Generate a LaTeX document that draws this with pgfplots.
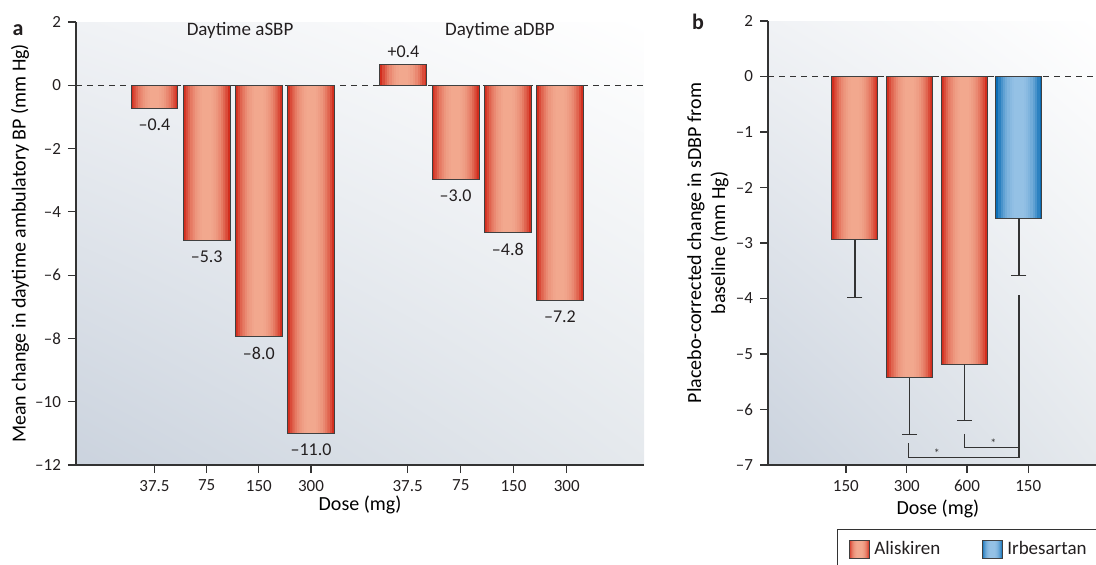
\documentclass[border=0pt]{standalone}
\usepackage{fontspec}
\setmainfont{Carlito}
\usepackage{pgfplots}
\usepackage{pgfplotstable}
\pgfplotsset{compat=1.18}
\usetikzlibrary{shadings}
\definecolor{rdark}{HTML}{D22E1E}
\definecolor{rlight}{HTML}{F2A88E}
\definecolor{bdark}{HTML}{0B6DB5}
\definecolor{blight}{HTML}{94C1E5}
\definecolor{axgray}{HTML}{333333}
\definecolor{txt}{HTML}{231F20}
\definecolor{bgLL}{HTML}{CBD3DE}
\definecolor{bgUL}{HTML}{F0F2F5}
\definecolor{bgLR}{HTML}{E5E9ED}

% panel a: bar heights as drawn, with printed labels
\pgfplotstableread{
x     y      lab
1     -0.74  –0.4
2     -4.90  –5.3
3     -7.93  –8.0
4     -11.0  –11.0
6.77  -2.97  –3.0
7.77  -4.65  –4.8
8.77  -6.80  –7.2
}\tabAneg
\pgfplotstableread{
x     y      lab
5.77  0.65   +0.4
}\tabApos
% panel b
\pgfplotstableread{
x  y      err
1  -2.94  1.04
2  -5.43  1.02
3  -5.18  1.02
}\tabAlis
\pgfplotstableread{
x  y      err
4  -2.55  1.03
}\tabIrb

\newcommand\gradbars[4]{%
  \foreach \d/\c in {1/0, 0.9/25, 0.8/45, 0.7/62, 0.6/75, 0.5/85, 0.4/92, 0.3/97, 0.2/100}{%
    \pgfmathsetmacro\w{#2*\d}%
    \edef\doit{\noexpand\addplot[forget plot, ybar, bar shift=0pt, draw=none, bar width=\w, fill=#4!\c!#3] table[x=x,y=y]{\noexpand#1};}%
    \doit}}
% gradient square for legend
\newcommand\gradsquare[2]{%
  \foreach \d/\c in {1/0, 0.9/25, 0.8/45, 0.7/62, 0.6/75, 0.5/85, 0.4/92, 0.3/97, 0.2/100}{%
    \fill[#2!\c!#1] ({5pt-5pt*\d},-4.5pt) rectangle ({5pt+5pt*\d},4.5pt);}%
  \draw[black!75, line width=0.5pt] (0pt,-4.5pt) rectangle (10pt,4.5pt);}

\pgfplotsset{
  common/.style={
    scale only axis,
    axis lines=left,
    axis line style={-, draw=axgray, line width=0.7pt},
    tick align=outside,
    major tick length=4pt,
    tick style={axgray, line width=0.6pt},
    tick label style={font=\fontsize{8.5}{10}\selectfont, text=txt},
    label style={font=\fontsize{9.5}{11}\selectfont, text=txt},
    axis background/.style={shade, upper left=bgUL, upper right=white, lower left=bgLL, lower right=bgLR},
    clip=false,
  },
  outline/.style={forget plot, ybar, bar shift=0pt, fill=none, draw=black!75, line width=0.5pt},
}
\begin{document}
\begin{tikzpicture}
% ---------------- panel a ----------------
\begin{axis}[common,
  at={(38pt,49.5pt)}, anchor=south west,
  width=284pt, height=221.5pt,
  xmin=-0.504, xmax=10.38, ymin=-12, ymax=2,
  ytick={-12,-10,-8,-6,-4,-2,0,2},
  yticklabels={–12,–10,–8,–6,–4,–2,0,2},
  xtick={1,2,3,4,5.85,6.87,7.88,8.9},
  xticklabels={37.5,75,150,300,37.5,75,150,300},
  xlabel={Dose (mg)},
  ylabel={Mean change in daytime ambulatory BP (mm Hg)},
  every axis x label/.style={at={(axis description cs:0.5,0)}, yshift=-20pt, anchor=center},
  every axis y label/.style={at={(axis description cs:0,0.5)}, xshift=-28pt, rotate=90, anchor=center},
]
\addplot[forget plot, axgray, line width=0.5pt, dash pattern=on 3pt off 2.5pt] coordinates {(-0.504,0) (10.38,0)};
\gradbars{\tabAneg}{0.9}{rdark}{rlight}
\gradbars{\tabApos}{0.9}{rdark}{rlight}
\addplot[outline, bar width=0.9,
  point meta=explicit symbolic, nodes near coords,
  nodes near coords style={anchor=north, font=\fontsize{9}{10}\selectfont, text=txt, inner ysep=5pt}]
  table[x=x, y=y, meta=lab] {\tabAneg};
\addplot[outline, bar width=0.9,
  point meta=explicit symbolic, nodes near coords,
  nodes near coords style={anchor=south, font=\fontsize{9}{10}\selectfont, text=txt, inner ysep=3.5pt}]
  table[x=x, y=y, meta=lab] {\tabApos};
\node[font=\fontsize{9.5}{11}\selectfont, text=txt] at (axis cs:2.64,1.74) {Daytime aSBP};
\node[font=\fontsize{9.5}{11}\selectfont, text=txt] at (axis cs:7.62,1.74) {Daytime aDBP};
\end{axis}
% ---------------- panel b ----------------
\begin{axis}[common,
  at={(384pt,49.5pt)}, anchor=south west,
  width=164pt, height=222pt,
  xmin=-0.59, xmax=5.41, ymin=-7, ymax=1,
  ytick={-7,-6,-5,-4,-3,-2,-1,0,1},
  yticklabels={–7,–6,–5,–4,–3,–2,–1,0,2},
  xtick={0.835,1.95,3.05,4.17},
  xticklabels={150,300,600,150},
  xlabel={Dose (mg)},
  ylabel={Placebo-corrected change in sDBP from\\baseline (mm Hg)},
  every axis x label/.style={at={(axis description cs:0.518,0)}, yshift=-22pt, anchor=center},
  every axis y label/.style={at={(axis description cs:0,0.5)}, xshift=-30pt, rotate=90, anchor=center, align=center},
  legend style={at={(0.21,-0.144)}, anchor=north west, draw=axgray, line width=0.5pt,
    fill=white, font=\fontsize{9.5}{11}\selectfont, text=txt,
    inner xsep=6pt, inner ysep=4pt},
  legend columns=2,
  /tikz/every even column/.append style={column sep=19pt},
]
\addplot[forget plot, axgray, line width=0.5pt, dash pattern=on 3pt off 2.5pt] coordinates {(-0.59,0) (5.41,0)};
\gradbars{\tabAlis}{0.84}{rdark}{rlight}
\gradbars{\tabIrb}{0.84}{bdark}{blight}
\addplot[outline, bar width=0.84,
  error bars/.cd, y dir=minus, y explicit, error mark=-,
  error bar style={axgray, line width=0.6pt},
  error mark options={rotate=90, axgray, mark size=3.75pt, line width=0.6pt}]
  table[x=x, y=y, y error minus=err] {\tabAlis};
\addplot[outline, bar width=0.84,
  error bars/.cd, y dir=minus, y explicit, error mark=-,
  error bar style={axgray, line width=0.6pt},
  error mark options={rotate=90, axgray, mark size=3.75pt, line width=0.6pt}]
  table[x=x, y=y, y error minus=err] {\tabIrb};
\addlegendimage{legend image code/.code={\gradsquare{rdark}{rlight}}}
\addlegendentry{Aliskiren}
\addlegendimage{legend image code/.code={\gradsquare{bdark}{blight}}}
\addlegendentry{Irbesartan}
\addplot[forget plot, axgray, line width=0.6pt] coordinates {(1.98,-6.61) (1.98,-6.86) (4,-6.86) (4,-3.94)};
\addplot[forget plot, axgray, line width=0.6pt] coordinates {(3,-6.44) (3,-6.69) (4,-6.69)};
\node[font=\fontsize{6}{7}\selectfont, text=axgray] at (axis cs:2.5,-6.78) {*};
\node[font=\fontsize{6}{7}\selectfont, text=axgray] at (axis cs:3.53,-6.61) {*};
\end{axis}
\node[font=\bfseries\fontsize{11}{12}\selectfont, text=txt] at (9pt,267pt) {a};
\node[font=\bfseries\fontsize{11}{12}\selectfont, text=txt] at (349pt,271pt) {b};
\pgfresetboundingbox
\useasboundingbox (0,0) rectangle (548pt,282pt);
\end{tikzpicture}
\end{document}
